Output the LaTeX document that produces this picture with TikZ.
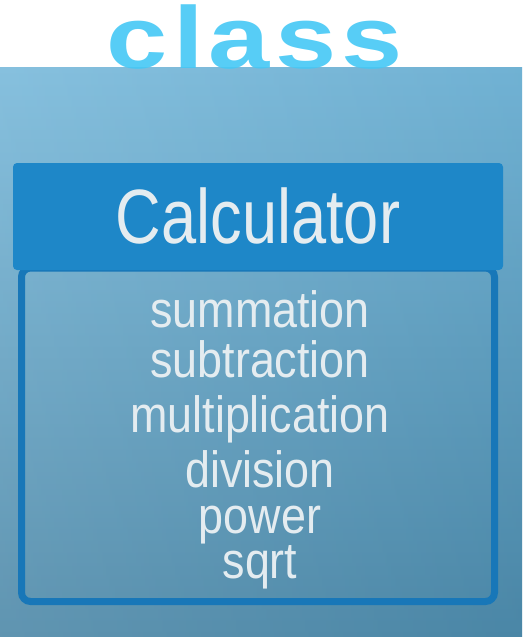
\documentclass[tikz,border=0pt]{standalone}
\usepackage{fontspec}
\setmainfont{Liberation Sans}
\newfontfamily\titlefont[FakeStretch=0.82]{Liberation Sans}
\newfontfamily\itemfont[FakeStretch=0.88]{Liberation Sans}
\newfontfamily\handfont[LetterSpace=6, FakeStretch=1.25]{Liberation Sans}
\usetikzlibrary{positioning}
\definecolor{bgtop}{HTML}{76B8DA}
\definecolor{bgbot}{HTML}{4A86A6}
\definecolor{headblue}{HTML}{1E87C8}
\definecolor{lineblue}{HTML}{1877B8}
\definecolor{textgray}{HTML}{E4ECF0}
\definecolor{handblue}{HTML}{45C8F5}
\tikzset{
    header/.style={fill=headblue, rounded corners=4pt},
    body/.style={draw=lineblue, line width=7pt, rounded corners=9pt},
    title/.style={text=textgray, font=\titlefont\fontsize{77}{80}\selectfont, anchor=base, inner sep=0pt},
    member/.style={text=textgray, font=\itemfont\fontsize{51}{53}\selectfont, anchor=base, inner sep=0pt},
    handword/.style={text=handblue, font=\handfont\bfseries\fontsize{88}{92}\selectfont, anchor=base, inner sep=0pt, opacity=0.9},
}

\begin{document}
\begin{tikzpicture}[x=1pt, y=-1pt]
    \useasboundingbox (0,0) rectangle (522,637);
    \shade[top color=bgtop, bottom color=bgbot] (0,67) rectangle (522,637);
    \shade[left color=white, right color=bgbot, opacity=0.12] (0,67) rectangle (522,637);

    % class box
    \draw[body] (21.5,268) rectangle (494.5,601.5);
    \path[header] (13,163) rectangle (503,270);
    \node[title] (calc) at (258,243) {Calculator};

    % members
    \foreach \op/\base [count=\i] in {summation/327, subtraction/377, multiplication/432, division/487, power/533, sqrt/578}
        \node[member] (op-\i) at (260,\base) {\op};

    \node[handword] (word) at (255,68) {class};
\end{tikzpicture}
\end{document}
